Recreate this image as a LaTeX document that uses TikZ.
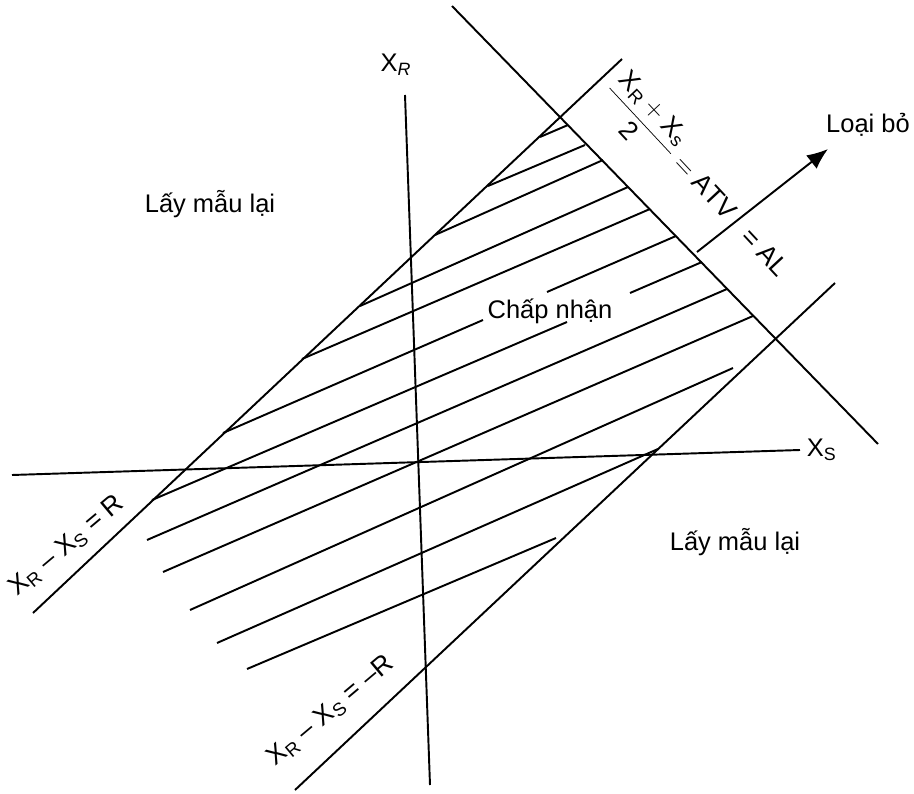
\documentclass[tikz,border=0pt]{standalone}
\usepackage{fontspec}
\setmainfont{Liberation Sans}
\setsansfont{Liberation Sans}
\usetikzlibrary{arrows.meta}

\tikzset{
  line/.style={line width=1.1pt},
  lbl/.style={font=\fontsize{14.5}{17}\selectfont},
  eqn/.style={font=\fontsize{15}{18}\selectfont, inner sep=0pt},
}

\begin{document}
\begin{tikzpicture}[x=0.02cm, y=-0.02cm]
    \useasboundingbox (0,0) rectangle (914,794);

    % Axes
    \draw[line] (12,475) -- (800,450) node[lbl, right] (xs) {X\textsubscript{S}};
    \draw[line] (430,785) -- (405,95);
    \node[lbl, anchor=base] (xr) at (396,72) {X\textsubscript{\textit{R}}};

    % Band limits
    \draw[line] (33,613) -- (622,59);
    \draw[line] (295,790) -- (835,283);
    \draw[line] (452,6) -- (878,444);

    % Hatching of the accepted band
    \draw[line] (540,137) -- (568,125);
    \draw[line] (488,186) -- (585,145);
    \draw[line] (435,235) -- (603,160);
    \draw[line] (360,306) -- (628,187);
    \draw[line] (302,359) -- (650,209);
    \draw[line] (223,433) -- (483,320);
    \draw[line] (547,292) -- (676,236);
    \draw[line] (152,500) -- (567,322);
    \draw[line] (630,293) -- (702,262);
    \draw[line] (147,540) -- (727,289);
    \draw[line] (163,572) -- (753,316);
    \draw[line] (190,610) -- (733,368);
    \draw[line] (217,643) -- (658,449);
    \draw[line] (247,669) -- (556,538);

    % Reject direction
    \draw[line, -{Latex[length=4.2mm,width=3.4mm]}] (697,252) -- (828,149);
    \node[lbl, anchor=base] (reject) at (868,133) {Loại bỏ};

    % Regions
    \node[lbl, anchor=base] (resample1) at (210,213) {Lấy mẫu lại};
    \node[lbl, anchor=base] (resample2) at (735,550) {Lấy mẫu lại};
    \node[lbl, anchor=base] (accept) at (550,318) {Chấp nhận};

    % Line equations
    \node[eqn, rotate=40] (upper) at (67,546) {X\textsubscript{R} -- X\textsubscript{S} = R};
    \node[eqn, rotate=40] (lower) at (331,711) {X\textsubscript{R} -- X\textsubscript{S} = --R};
    \node[eqn, rotate=-47] (atv) at (671,150)
        {$\displaystyle\frac{\mathsf{X}_{\mathsf{R}}+\mathsf{X}_{\mathsf{s}}}{\mathsf{2}}=\mathsf{ATV}$};
    \node[eqn, rotate=-47] (al) at (765,252) {= AL};
\end{tikzpicture}
\end{document}
